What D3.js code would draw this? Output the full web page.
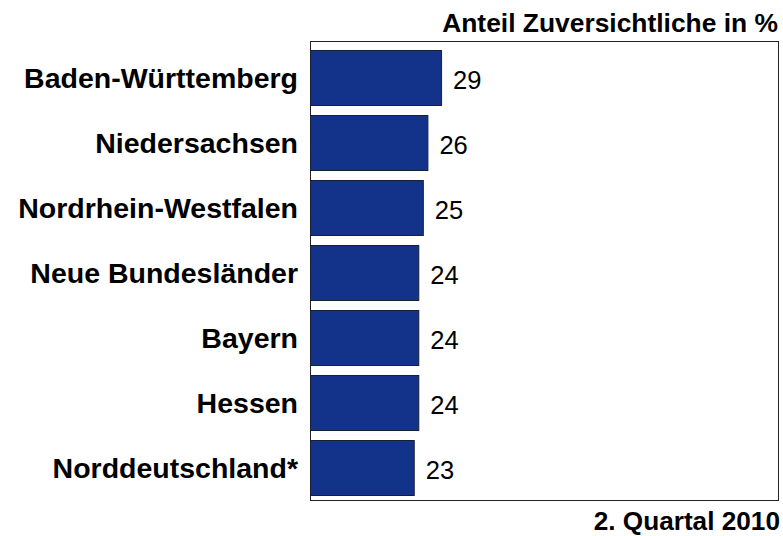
<!DOCTYPE html>
<html><head><meta charset="utf-8">
<script src="https://cdn.jsdelivr.net/npm/d3@7"></script>
<style>body{margin:0;background:#fff}svg{display:block}text{font-family:"Liberation Sans",Arial,sans-serif}</style>
</head><body>
<script>
const categories = ["Baden-Württemberg","Niedersachsen","Nordrhein-Westfalen","Neue Bundesländer","Bayern","Hessen","Norddeutschland*"];
const values = [29,26,25,24,24,24,23];
const title = "Anteil Zuversichtliche in %";
const footer = "2. Quartal 2010";

const W = 783, H = 536;
const frame = {left:310, top:41, right:779, bottom:501};
const svg = d3.select("body").append("svg").attr("width",W).attr("height",H);

const x = d3.scaleLinear().domain([0,103]).range([frame.left, frame.right]);
const y = d3.scaleBand().domain(categories).range([45.5,500.5]).paddingInner(9/65).paddingOuter(4.5/65);

svg.append("rect").attr("x",frame.left+0.5).attr("y",frame.top+0.5)
  .attr("width",frame.right-frame.left-1).attr("height",frame.bottom-frame.top-1)
  .attr("fill","#fff").attr("stroke","#222").attr("stroke-width",1);

const data = categories.map((c,i)=>({c, v:values[i]}));

svg.selectAll("rect.bar").data(data).join("rect").attr("class","bar")
  .attr("x",x(0)+0.5).attr("y",d=>y(d.c)+0.5)
  .attr("width",d=>x(d.v)-x(0)-1).attr("height",y.bandwidth()-1)
  .attr("fill","#13338a").attr("stroke","#1a1f33").attr("stroke-width",1);

svg.selectAll("text.val").data(data).join("text").attr("class","val")
  .attr("x",d=>x(d.v)+11).attr("y",d=>y(d.c)+y.bandwidth()/2+2)
  .attr("dy","0.36em").attr("font-size",25.5).attr("fill","#000").text(d=>d.v);

const yAxis = d3.axisLeft(y).tickSize(0).tickPadding(0);
const ga = svg.append("g").attr("transform","translate(298,0)").call(yAxis);
ga.select(".domain").remove();
ga.selectAll("text").attr("font-size",28.5).attr("font-weight","bold").attr("fill","#000")
  .attr("font-family","'Liberation Sans',Arial,sans-serif").attr("dy","0.36em");

svg.append("text").attr("x",778).attr("y",32).attr("text-anchor","end")
  .attr("font-size",26.4).attr("font-weight","bold").text(title);
svg.append("text").attr("x",780).attr("y",530).attr("text-anchor","end")
  .attr("font-size",26.2).attr("font-weight","bold").text(footer);
</script>
</body></html>
